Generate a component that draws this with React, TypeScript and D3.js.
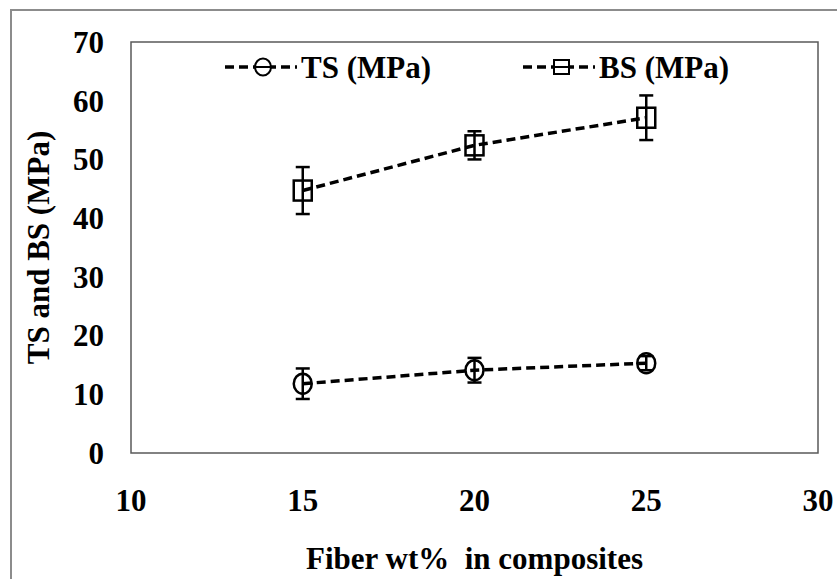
import React from "react";
import * as d3 from "d3";

// fiber content (wt%)
const fiberWt = [15, 20, 25];
// tensile strength, mean and error
const tsMean = [11.8, 14.1, 15.3];
const tsErr = [2.6, 2.1, 1.2];
// bending strength, mean and error
const bsMean = [44.7, 52.4, 57.1];
const bsErr = [4.0, 2.4, 3.8];

const xTicks = [10, 15, 20, 25, 30];
const yTicks = [0, 10, 20, 30, 40, 50, 60, 70];

const W = 837;
const H = 579;
const FONT = "'Liberation Serif', 'Times New Roman', serif";
const FS = 31;

const plot = { left: 131, top: 42, right: 818, bottom: 453 };

const x = d3.scaleLinear().domain([10, 30]).range([plot.left, plot.right]);
const y = d3.scaleLinear().domain([0, 70]).range([plot.bottom, plot.top]);

const line = d3
	.line<number>()
	.x((d, i) => x(fiberWt[i]))
	.y((d) => y(d));

function Marker({ cx, cy, shape, r }: { cx: number; cy: number; shape: string; r: number }) {
	if (shape === "circle") {
		return <ellipse cx={cx} cy={cy} rx={r * 0.9} ry={r} fill="none" stroke="#000" strokeWidth={2.5} />;
	}
	return (
		<rect x={cx - r * 0.9} y={cy - r} width={r * 1.8} height={r * 2} fill="none" stroke="#000" strokeWidth={2.5} />
	);
}

function Series({ mean, err, shape }: { mean: number[]; err: number[]; shape: string }) {
	return (
		<g>
			<path d={line(mean) || ""} fill="none" stroke="#000" strokeWidth={3.5} strokeDasharray="9,5" />
			{mean.map((m, i) => {
				const cx = x(fiberWt[i]);
				const top = y(m + err[i]);
				const bot = y(m - err[i]);
				return (
					<g key={i}>
						<line x1={cx} x2={cx} y1={top} y2={bot} stroke="#000" strokeWidth={2.5} />
						<line x1={cx - 7} x2={cx + 7} y1={top} y2={top} stroke="#000" strokeWidth={2.5} />
						<line x1={cx - 7} x2={cx + 7} y1={bot} y2={bot} stroke="#000" strokeWidth={2.5} />
						<Marker cx={cx} cy={y(m)} shape={shape} r={10} />
					</g>
				);
			})}
		</g>
	);
}

function LegendItem({ x0, label, shape }: { x0: number; label: string; shape: string }) {
	const ly = 67;
	return (
		<g>
			<line x1={x0} x2={x0 + 72} y1={ly} y2={ly} stroke="#000" strokeWidth={3.5} strokeDasharray="9,5" />
			{shape === "circle" ? (
				<ellipse cx={x0 + 38} cy={ly} rx={8} ry={8.5} fill="#fff" stroke="#000" strokeWidth={2} />
			) : (
				<rect x={x0 + 31} y={ly - 7} width={15} height={14} fill="#fff" stroke="#000" strokeWidth={2} />
			)}
			<line x1={x0 + 30} x2={x0 + 46} y1={ly} y2={ly} stroke="#000" strokeWidth={2} />
			<text x={x0 + 76} y={ly} dy="0.35em" fontSize={FS} fontWeight="bold" fontFamily={FONT}>
				{label}
			</text>
		</g>
	);
}

export default function App() {
	return (
		<svg width={W} height={H} style={{ position: "absolute", left: 0, top: 0, background: "#fff" }}>
			<rect x={11} y={10} width={900} height={700} fill="#fff" stroke="#8c8c8c" strokeWidth={2} />
			<rect
				x={plot.left}
				y={plot.top}
				width={plot.right - plot.left}
				height={plot.bottom - plot.top}
				fill="none"
				stroke="#595959"
				strokeWidth={1.5}
			/>
			{yTicks.map((t) => (
				<text
					key={t}
					x={104}
					y={y(t)}
					dy="0.35em"
					textAnchor="end"
					fontSize={FS}
					fontWeight="bold"
					fontFamily={FONT}
				>
					{t}
				</text>
			))}
			{xTicks.map((t) => (
				<text
					key={t}
					x={x(t)}
					y={500}
					dy="0.35em"
					textAnchor="middle"
					fontSize={FS}
					fontWeight="bold"
					fontFamily={FONT}
				>
					{t}
				</text>
			))}
			<text
				x={(plot.left + plot.right) / 2}
				y={558}
				dy="0.35em"
				textAnchor="middle"
				fontSize={FS}
				fontWeight="bold"
				fontFamily={FONT}
				style={{ whiteSpace: "pre" }}
			>
				{"Fiber wt%  in composites"}
			</text>
			<text
				transform={`translate(38, ${(plot.top + plot.bottom) / 2}) rotate(-90)`}
				dy="0.35em"
				textAnchor="middle"
				fontSize={FS}
				fontWeight="bold"
				fontFamily={FONT}
			>
				TS and BS (MPa)
			</text>
			<Series mean={tsMean} err={tsErr} shape="circle" />
			<Series mean={bsMean} err={bsErr} shape="square" />
			<LegendItem x0={225} label="TS (MPa)" shape="circle" />
			<LegendItem x0={523} label="BS (MPa)" shape="square" />
		</svg>
	);
}
